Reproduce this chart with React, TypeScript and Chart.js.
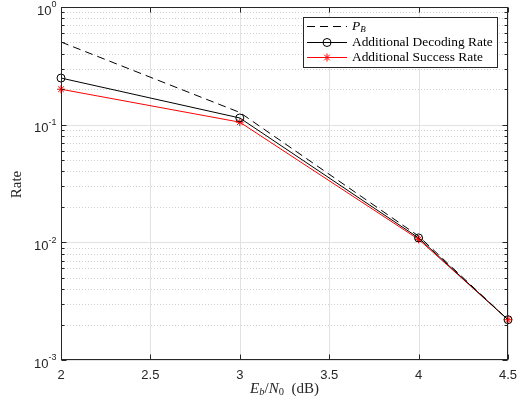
import React, { useEffect, useRef } from "react";
import { Chart, registerables } from "chart.js";
Chart.register(...registerables);

const xValues = [2, 3, 4, 4.5];
const pbValues = [0.504, 0.127, 0.0113, 0.0022];
const decodingValues = [0.249, 0.114, 0.0109, 0.0022];
const successValues = [0.2, 0.105, 0.0106, 0.0022];
const xTicks = [2, 2.5, 3, 3.5, 4, 4.5];
const xTickLabels = ["2", "2.5", "3", "3.5", "4", "4.5"];
const yDecades = [1, 0.1, 0.01, 0.001];
const yDecadeExponents = ["0", "-1", "-2", "-3"];
const legendNames = ["P_B", "Additional Decoding Rate", "Additional Success Rate"];

const AXIS = "#262626";
const SANS = '"Liberation Sans", Arial, sans-serif';
const SERIF = '"Liberation Serif", "Times New Roman", serif';

function minorValues(): number[] {
  const out: number[] = [];
  for (let d = 0; d < yDecades.length - 1; d++) {
    const base = yDecades[d + 1];
    for (let k = 2; k <= 9; k++) out.push(base * k);
  }
  return out;
}

function drawRuns(ctx: CanvasRenderingContext2D, runs: { t: string; f: string; dy: number }[], x: number, y: number, align: "left" | "center" | "right") {
  let total = 0;
  for (const r of runs) {
    ctx.font = r.f;
    total += ctx.measureText(r.t).width;
  }
  let cx = align === "left" ? x : align === "center" ? x - total / 2 : x - total;
  ctx.textAlign = "left";
  for (const r of runs) {
    ctx.font = r.f;
    ctx.fillText(r.t, cx, y + r.dy);
    cx += ctx.measureText(r.t).width;
  }
}

const matlabPlugin = {
  id: "matlabStyle",
  beforeDatasetsDraw(chart: any) {
    const { ctx, chartArea: a, scales } = chart;
    const x = scales.x, y = scales.y;
    ctx.save();
    ctx.lineWidth = 1;
    ctx.strokeStyle = "#cfcfcf";
    ctx.setLineDash([1, 2]);
    for (const v of minorValues()) {
      const py = Math.round(y.getPixelForValue(v)) + 0.5;
      ctx.beginPath();
      ctx.moveTo(a.left, py);
      ctx.lineTo(a.right, py);
      ctx.stroke();
    }
    ctx.setLineDash([]);
    ctx.strokeStyle = "#e2e2e2";
    for (const v of xTicks) {
      const px = Math.round(x.getPixelForValue(v)) + 0.5;
      ctx.beginPath();
      ctx.moveTo(px, a.top);
      ctx.lineTo(px, a.bottom);
      ctx.stroke();
    }
    for (const v of yDecades) {
      const py = Math.round(y.getPixelForValue(v)) + 0.5;
      ctx.beginPath();
      ctx.moveTo(a.left, py);
      ctx.lineTo(a.right, py);
      ctx.stroke();
    }
    ctx.restore();
  },
  afterDatasetsDraw(chart: any) {
    const { ctx, chartArea: a, scales } = chart;
    const x = scales.x, y = scales.y;
    const L = Math.round(a.left) + 0.5, R = Math.round(a.right) - 0.5;
    const T = Math.round(a.top) + 0.5, B = Math.round(a.bottom) - 0.5;
    ctx.save();
    ctx.strokeStyle = AXIS;
    ctx.lineWidth = 1;
    ctx.strokeRect(L, T, R - L, B - T);
    ctx.beginPath();
    for (const v of xTicks) {
      const px = Math.round(x.getPixelForValue(v)) + 0.5;
      ctx.moveTo(px, B); ctx.lineTo(px, B - 5);
      ctx.moveTo(px, T); ctx.lineTo(px, T + 5);
    }
    for (const v of yDecades) {
      const py = Math.round(y.getPixelForValue(v)) + 0.5;
      ctx.moveTo(L, py); ctx.lineTo(L + 5, py);
      ctx.moveTo(R, py); ctx.lineTo(R - 5, py);
    }
    for (const v of minorValues()) {
      const py = Math.round(y.getPixelForValue(v)) + 0.5;
      ctx.moveTo(L, py); ctx.lineTo(L + 3, py);
      ctx.moveTo(R, py); ctx.lineTo(R - 3, py);
    }
    ctx.stroke();

    ctx.fillStyle = AXIS;
    ctx.textBaseline = "middle";
    ctx.textAlign = "center";
    ctx.font = `13px ${SANS}`;
    xTicks.forEach((v, i) => {
      ctx.fillText(xTickLabels[i], x.getPixelForValue(v), B + 16);
    });
    yDecades.forEach((v, i) => {
      const py = y.getPixelForValue(v);
      drawRuns(ctx, [
        { t: "10", f: `13px ${SANS}`, dy: 4 },
        { t: yDecadeExponents[i], f: `9px ${SANS}`, dy: -2 },
      ], L - 5, py, "right");
    });
    ctx.fillStyle = AXIS;
    const it = `italic 15px ${SERIF}`, rg = `15px ${SERIF}`, sit = `italic 10.5px ${SERIF}`, srg = `10.5px ${SERIF}`;
    drawRuns(ctx, [
      { t: "E", f: it, dy: 0 },
      { t: "b", f: sit, dy: 3 },
      { t: "/", f: rg, dy: 0 },
      { t: "N", f: it, dy: 0 },
      { t: "0", f: srg, dy: 3 },
      { t: "  (dB)", f: rg, dy: 0 },
    ], (a.left + a.right) / 2, B + 30, "center");
    ctx.save();
    ctx.translate(17, (a.top + a.bottom) / 2 + 1);
    ctx.rotate(-Math.PI / 2);
    ctx.font = rg;
    ctx.textAlign = "center";
    ctx.fillText("Rate", 0, 0);
    ctx.restore();

    const lx = 303.5, ly = 17.5, lw = 194, lh = 50;
    ctx.fillStyle = "#ffffff";
    ctx.fillRect(lx, ly, lw, lh);
    ctx.strokeStyle = AXIS;
    ctx.strokeRect(lx, ly, lw, lh);
    const rows = [26.5, 42.5, 57.5];
    const ds = chart.data.datasets;
    rows.forEach((ry, i) => {
      const d = ds[i];
      ctx.strokeStyle = d.borderColor;
      ctx.lineWidth = 1;
      ctx.setLineDash(d.borderDash || []);
      ctx.beginPath();
      ctx.moveTo(307, ry); ctx.lineTo(347, ry);
      ctx.stroke();
      ctx.setLineDash([]);
      if (d.pointStyle === "circle") {
        ctx.beginPath();
        ctx.arc(327, ry, 4, 0, Math.PI * 2);
        ctx.stroke();
      } else if (d.pointStyle === "star") {
        ctx.beginPath();
        for (let k = 0; k < 4; k++) {
          const ang = (k * Math.PI) / 4;
          ctx.moveTo(327 + 4 * Math.cos(ang), ry + 4 * Math.sin(ang));
          ctx.lineTo(327 - 4 * Math.cos(ang), ry - 4 * Math.sin(ang));
        }
        ctx.stroke();
      }
      ctx.fillStyle = "#000000";
      ctx.textBaseline = "middle";
      const name = legendNames[i];
      if (name.includes("_")) {
        const [m, s] = name.split("_");
        drawRuns(ctx, [
          { t: m, f: `italic 13.5px ${SERIF}`, dy: 0 },
          { t: s, f: `italic 9px ${SERIF}`, dy: 3 },
        ], 352, ry, "left");
      } else {
        drawRuns(ctx, [{ t: name, f: `13.4px ${SERIF}`, dy: 0 }], 352, ry, "left");
      }
    });
    ctx.restore();
  },
};

export default function App() {
  const ref = useRef<HTMLCanvasElement | null>(null);
  useEffect(() => {
    if (!ref.current) return;
    const toPts = (vals: number[]) => xValues.map((xv, i) => ({ x: xv, y: vals[i] }));
    const chart = new Chart(ref.current, {
      type: "line",
      data: {
        datasets: [
          {
            label: legendNames[0],
            data: toPts(pbValues),
            borderColor: "#000000",
            borderWidth: 1,
            borderDash: [8, 5],
            pointRadius: 0,
            fill: false,
            clip: false,
          } as any,
          {
            label: legendNames[1],
            data: toPts(decodingValues),
            borderColor: "#000000",
            borderWidth: 1,
            pointStyle: "circle",
            pointRadius: 4,
            pointBorderWidth: 1,
            pointBackgroundColor: "rgba(0,0,0,0)",
            pointBorderColor: "#000000",
            fill: false,
            clip: false,
          } as any,
          {
            label: legendNames[2],
            data: toPts(successValues),
            borderColor: "#ff0000",
            borderWidth: 1,
            pointStyle: "star",
            pointRadius: 4,
            pointBorderWidth: 1,
            pointBorderColor: "#ff0000",
            pointBackgroundColor: "#ff0000",
            fill: false,
            clip: false,
          } as any,
        ],
      },
      options: {
        animation: false,
        responsive: false,
        layout: { padding: { left: 61, right: 9, top: 7, bottom: 45 } },
        plugins: { legend: { display: false }, tooltip: { enabled: false } },
        scales: {
          x: { type: "linear", min: 2, max: 4.5, display: false },
          y: { type: "logarithmic", min: 0.001, max: 1, display: false },
        },
      },
      plugins: [matlabPlugin],
    });
    return () => chart.destroy();
  }, []);
  return (
    <div style={{ position: "absolute", left: 0, top: 0, width: 517, height: 405, background: "#ffffff" }}>
      <canvas ref={ref} width={517} height={405} />
    </div>
  );
}
